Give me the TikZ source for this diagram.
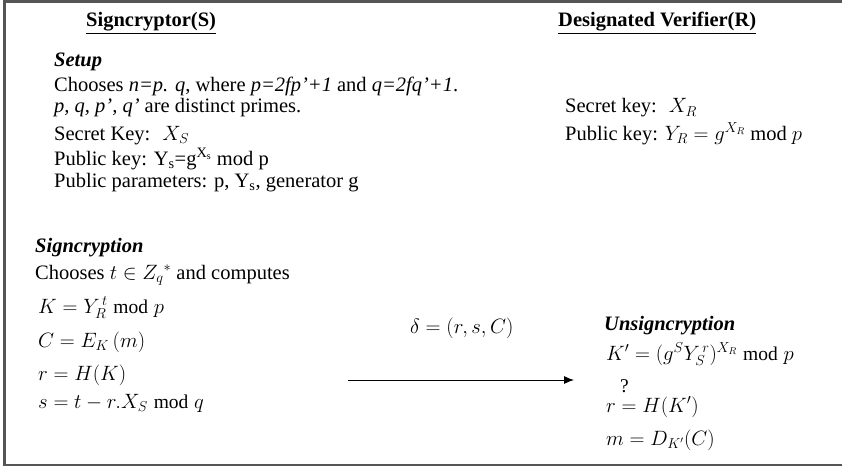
\documentclass[tikz,border=0pt]{standalone}
\usepackage{fontspec}
\setmainfont{Liberation Serif}
\usepackage{tikz}
\usetikzlibrary{arrows.meta,positioning,calc}
\definecolor{FRAME-GRAY}{RGB}{85, 85, 85}
\tikzset{
  heading/.style={anchor=base west, inner sep=0pt, font=\fontsize{20.5}{24}\selectfont\bfseries},
  stage/.style={anchor=base west, inner sep=0pt, font=\fontsize{20.5}{24}\selectfont\bfseries\itshape},
  body/.style={anchor=base west, inner sep=0pt, font=\fontsize{20.5}{24}\selectfont},
  formula/.style={anchor=base west, inner sep=0pt, font=\fontsize{19.5}{23}\selectfont},
}

\begin{document}
\begin{tikzpicture}[x=1pt,y=-1pt]
  \useasboundingbox (0,0) rectangle (842,468);
  % Frame (open on the right)
  \draw[FRAME-GRAY, line width=2.5pt] (842,1.5) -- (4.5,1.5) -- (4.5,465) -- (842,465);

  % Titles
  \node[heading] (signer) at (86,27) {\underline{Signcryptor(S)}};
  \node[heading] (verifier) at (558,27) {\underline{Designated Verifier(R)}};

  % Setup (signcryptor)
  \node[stage] (setup) at (54,67) {Setup};
  \node[body] (choosen) at (54,92) {Chooses \textit{n=p. q}, where \textit{p=2fp'+1} and \textit{q=2fq'+1}.};
  \node[body] (primes) at (54,113) {\textit{p, q, p', q'} are distinct primes.};
  \node[body] (secs) at (54,140) {Secret Key:~ $X_S$};
  \node[body] (pubs) at (54,165) {Public key: Y\textsubscript{s}=g\textsuperscript{X\textsubscript{s}} mod p};
  \node[body] (params) at (54,187) {Public parameters: p, Y\textsubscript{s}, generator g};

  % Keys (verifier)
  \node[body] (secr) at (565,113) {Secret key:~ $X_R$};
  \node[body] (pubr) at (565,140) {Public key: $Y_R = g^{X_R}$ mod $p$};

  % Signcryption
  \node[stage] (signcrypt) at (35,252) {Signcryption};
  \node[body] (chooset) at (35,279) {Chooses $t \in Z_q{}^{*}$ and computes};
  \node[formula] (keyk) at (38,313) {$K = Y_R^{\,t} \bmod p$};
  \node[formula] (cipher) at (38,347) {$C = E_K\,(m)$};
  \node[formula] (hashr) at (38,380) {$r = H(K)$};
  \node[formula] (sigs) at (38,408) {$s = t - r.X_S \bmod q$};

  % Transmission
  \node[formula] (delta) at (410,333) {$\delta = (r,s,C)$};
  \coordinate (sendstart) at (348,380);
  \coordinate (sendend) at (574,380);
  \draw[-{Latex[length=10pt,width=8pt]}, line width=0.9pt] (sendstart) -- (sendend);

  % Unsigncryption
  \node[stage] (unsign) at (604,330) {Unsigncryption};
  \node[formula] (keykp) at (606,360) {$K' = (g^{S}Y_S^{\,r})^{X_R} \bmod p$};
  \node[formula] (query) at (620,392) {?};
  \node[formula] (check) at (606,412) {$r = H(K')$};
  \node[formula] (plain) at (606,445) {$m = D_{K'}(C)$};
\end{tikzpicture}
\end{document}
